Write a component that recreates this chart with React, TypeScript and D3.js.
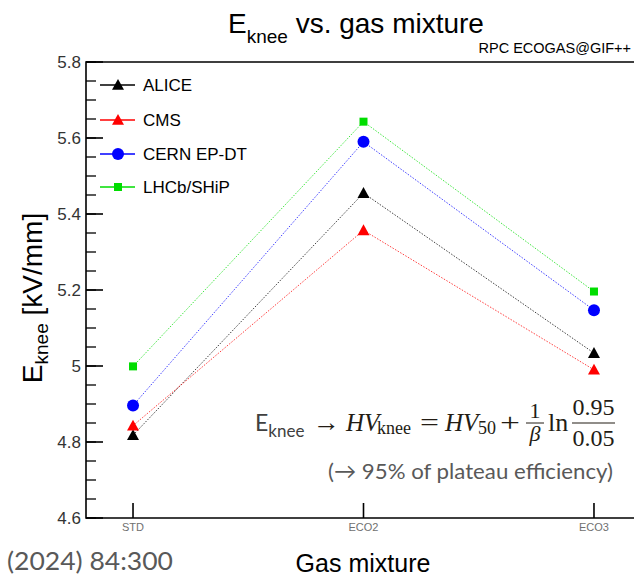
import React from "react";
import * as d3 from "d3";

const categories = ["STD", "ECO2", "ECO3"];
const seriesNames = ["ALICE", "CMS", "CERN EP-DT", "LHCb/SHiP"];
const aliceValues = [4.818, 5.455, 5.034];
const cmsValues = [4.843, 5.357, 4.99];
const cernValues = [4.896, 5.59, 5.147];
const lhcbValues = [4.999, 5.643, 5.196];
const seriesColors = ["#000000", "#ff0000", "#0000ff", "#00dd00"];
const seriesMarkers = ["triangle", "triangle", "circle", "square"];
const yMajorTicks = [4.6, 4.8, 5, 5.2, 5.4, 5.6, 5.8];
const yTickLabels = ["4.6", "4.8", "5", "5.2", "5.4", "5.6", "5.8"];

const W = 634;
const H = 576;
const left = 86;
const top = 62;
const bottom = 518;

export default function App() {
  const x = d3.scaleLinear().domain([-0.204, 2.204]).range([left, 641]);
  const y = d3.scaleLinear().domain([4.6, 5.8]).range([bottom, top]);
  const allSeries = [aliceValues, cmsValues, cernValues, lhcbValues];
  const minorTicks = d3.range(4.6, 5.8001, 0.05).map((v) => +v.toFixed(2));
  const line = d3
    .line<number>()
    .x((_, i) => x(i))
    .y((v) => y(v));

  const marker = (type: string, cx: number, cy: number, color: string, key: string) => {
    if (type === "triangle") {
      const s = 6;
      const p = d3.path();
      p.moveTo(cx, cy - s);
      p.lineTo(cx + s, cy + s * 0.8);
      p.lineTo(cx - s, cy + s * 0.8);
      p.closePath();
      return <path key={key} d={p.toString()} fill={color} />;
    }
    if (type === "circle") return <circle key={key} cx={cx} cy={cy} r={6} fill={color} />;
    return <rect key={key} x={cx - 4} y={cy - 4} width={8} height={8} fill={color} />;
  };

  const legendY = [85, 120, 154, 187];
  const serif = "Liberation Serif";
  const mathColor = "#231c14";

  return (
    <svg width={W} height={H} style={{ position: "absolute", left: 0, top: 0, background: "#fff" }}>
      <rect width={W} height={H} fill="#fff" />
      {/* title */}
      <text x={228} y={33} fontFamily="Liberation Sans" fontSize={28} fill="#000">
        E<tspan fontSize={19} dy={10}>knee</tspan>
        <tspan dy={-10}> vs. gas mixture</tspan>
      </text>
      <text x={631} y={53} textAnchor="end" fontFamily="Liberation Sans" fontSize={14.5} fill="#000">
        RPC ECOGAS@GIF++
      </text>

      {/* frame */}
      <path d={`M${W},${top}H${left}V${bottom}H${W}`} fill="none" stroke="#000" strokeWidth={1.6} />

      {/* y ticks */}
      {minorTicks.map((v) => (
        <line key={"m" + v} x1={left} x2={left + 10} y1={y(v)} y2={y(v)} stroke="#000" strokeWidth={1.3} />
      ))}
      {yMajorTicks.map((v, i) => (
        <g key={"M" + v}>
          <line x1={left} x2={left + 17} y1={y(v)} y2={y(v)} stroke="#000" strokeWidth={1.6} />
          <text x={81} y={y(v) + 6} textAnchor="end" fontFamily="Liberation Sans" fontSize={17} fill="#333">
            {yTickLabels[i]}
          </text>
        </g>
      ))}

      {/* x ticks */}
      {categories.map((c, i) => (
        <g key={c}>
          <line x1={x(i)} x2={x(i)} y1={bottom} y2={bottom - 15} stroke="#000" strokeWidth={1.6} />
          <text
            x={x(i)}
            y={531}
            textAnchor="middle"
            fontFamily="Liberation Sans"
            fontSize={11}
            fill="#707070"
          >
            {c}
          </text>
        </g>
      ))}

      {/* axis titles */}
      <text
        transform={`translate(42,298) rotate(-90)`}
        textAnchor="middle"
        fontFamily="Liberation Sans"
        fontSize={28}
        fill="#000"
      >
        E<tspan fontSize={19} dy={6}>knee</tspan>
        <tspan dy={-6}> [kV/mm]</tspan>
      </text>
      <text x={363} y={572} textAnchor="middle" fontFamily="Liberation Sans" fontSize={25} fill="#000">
        Gas mixture
      </text>
      <text x={7} y={570} fontFamily="Lato" fontSize={25} fill="#595959" textLength={166} lengthAdjust="spacingAndGlyphs">
        (2024) 84:300
      </text>

      {/* series */}
      {allSeries.map((vals, si) => (
        <g key={seriesNames[si]}>
          <path
            d={line(vals) || ""}
            fill="none"
            stroke={seriesColors[si]}
            strokeWidth={1}
            strokeDasharray="1.5,1.5"
            opacity={0.75}
          />
          {vals.map((v, i) => marker(seriesMarkers[si], x(i), y(v), seriesColors[si], seriesNames[si] + i))}
        </g>
      ))}

      {/* legend */}
      {seriesNames.map((n, si) => (
        <g key={"leg" + n}>
          <line x1={100} x2={135} y1={legendY[si]} y2={legendY[si]} stroke={seriesColors[si]} strokeWidth={1.3} />
          {marker(seriesMarkers[si], 118, legendY[si], seriesColors[si], "lm" + n)}
          <text x={143} y={legendY[si] + 6} fontFamily="Liberation Sans" fontSize={17} fill="#000">
            {n}
          </text>
        </g>
      ))}

      {/* formula */}
      <text x={255} y={431} fontFamily="Lato" fontSize={23} fill="#404040">
        E<tspan fontSize={17} dy={6}>knee</tspan>
      </text>
      <text x={313} y={431} fontFamily={serif} fontSize={26} fill={mathColor} textLength={27} lengthAdjust="spacingAndGlyphs">
        →
      </text>
      <text x={346} y={431} fontFamily={serif} fontStyle="italic" fontSize={25} fill={mathColor}>
        HV
      </text>
      <text x={377} y={434} fontFamily={serif} fontSize={18} fill={mathColor}>
        knee
      </text>
      <text x={420} y={431} fontFamily={serif} fontSize={26} fill={mathColor} textLength={19} lengthAdjust="spacingAndGlyphs">
        =
      </text>
      <text x={445} y={431} fontFamily={serif} fontStyle="italic" fontSize={25} fill={mathColor}>
        HV
      </text>
      <text x={478} y={434} fontFamily={serif} fontSize={18} fill={mathColor}>
        50
      </text>
      <text x={500} y={431} fontFamily={serif} fontSize={26} fill={mathColor} textLength={20} lengthAdjust="spacingAndGlyphs">
        +
      </text>
      <text x={535} y={418} textAnchor="middle" fontFamily={serif} fontSize={22} fill={mathColor}>
        1
      </text>
      <line x1={526} x2={544} y1={423} y2={423} stroke={mathColor} strokeWidth={1} />
      <text x={535} y={441} textAnchor="middle" fontFamily={serif} fontStyle="italic" fontSize={22} fill={mathColor}>
        β
      </text>
      <text x={548} y={431} fontFamily={serif} fontSize={26} fill={mathColor}>
        ln
      </text>
      <text x={593.5} y={415} textAnchor="middle" fontFamily={serif} fontSize={24} fill={mathColor}>
        0.95
      </text>
      <line x1={572} x2={615} y1={423} y2={423} stroke={mathColor} strokeWidth={1.1} />
      <text x={593.5} y={446} textAnchor="middle" fontFamily={serif} fontSize={24} fill={mathColor}>
        0.05
      </text>
      <text x={328} y={479} fontFamily="Lato" fontSize={22} fill="#595959" textLength={285} lengthAdjust="spacingAndGlyphs">
        (→ 95% of plateau efficiency)
      </text>
    </svg>
  );
}
